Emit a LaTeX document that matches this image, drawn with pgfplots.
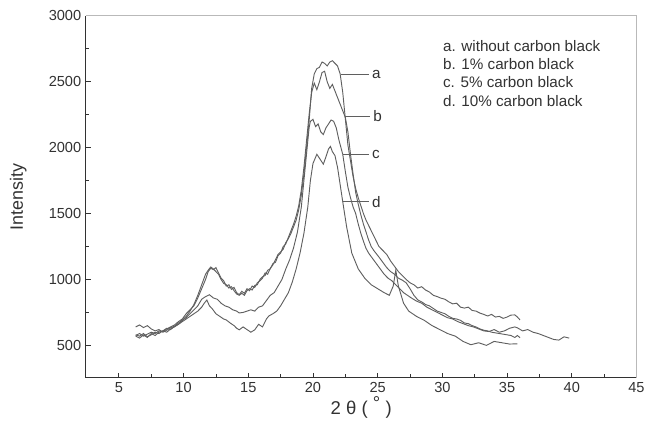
\documentclass[border=0pt]{standalone}
\usepackage{fontspec}
\setmainfont{Liberation Sans}
\usepackage{pgfplots}
\pgfplotsset{compat=1.18}
\definecolor{curve}{RGB}{95,95,95}
\definecolor{axdark}{RGB}{50,50,50}
\begin{document}
\begin{tikzpicture}
\begin{axis}[
  scale only axis,
  width=415.5pt, height=273pt,
  xmin=2.45, xmax=45, ymin=255, ymax=3000,
  axis lines=left,
  axis line style={-, axdark, line width=0.8pt},
  xtick={5,10,...,45}, ytick={500,1000,...,3000},
  minor x tick num=1, minor y tick num=1,
  tick align=inside,
  major tick length=3.75pt, minor tick length=2.5pt,
  tick style={axdark, line width=0.6pt},
  /pgf/number format/assume math mode=true,
  /pgf/number format/set thousands separator={},
  ticklabel style={font=\fontsize{11}{13}\selectfont, text=axdark},
  xlabel={2 θ ( \raisebox{0.55ex}{°} )},
  ylabel={Intensity},
  xlabel style={font=\fontsize{14}{16}\selectfont, text=axdark, at={(axis description cs:0.5,-0.082)}, anchor=center},
  ylabel style={font=\fontsize{13.5}{16}\selectfont, text=axdark, at={(axis description cs:-0.1227,0.5)}, anchor=center},
  clip=false,
]
% a
\addplot[curve, line width=0.7pt, mark=none] coordinates {
(6.3,575)(6.6,590)(6.9,570)(7.2,585)(7.5,600)(7.8,590)(8.1,610)(8.4,605)(8.7,625)(9.0,640)(9.3,655)(9.6,680)(9.9,700)(10.2,740)(10.5,770)(10.8,800)(11.1,860)(11.4,930)(11.7,1000)(11.9,1060)(12.1,1085)(12.3,1075)(12.5,1090)(12.7,1050)(12.9,1010)(13.1,990)(13.3,950)(13.5,960)(13.7,925)(13.9,940)(14.1,900)(14.3,885)(14.5,910)(14.7,895)(14.9,930)(15.1,915)(15.3,950)(15.5,940)(15.7,975)(15.9,990)(16.1,1010)(16.3,1050)(16.5,1040)(16.7,1085)(16.9,1110)(17.1,1150)(17.3,1190)(17.5,1210)(17.7,1230)(17.9,1280)(18.1,1310)(18.3,1350)(18.5,1400)(18.7,1450)(18.9,1530)(19.1,1640)(19.3,1800)(19.5,2000)(19.7,2200)(19.9,2450)(20.1,2560)(20.3,2600)(20.5,2610)(20.7,2650)(20.9,2640)(21.1,2620)(21.3,2650)(21.5,2660)(21.7,2640)(21.9,2620)(22.1,2560)(22.3,2420)(22.5,2220)(22.7,2020)(22.9,1900)(23.1,1780)(23.3,1690)(23.5,1620)(23.7,1560)(23.9,1500)(24.1,1450)(24.3,1410)(24.5,1370)(24.7,1330)(24.9,1290)(25.1,1250)(25.4,1220)(25.7,1190)(26.0,1140)(26.3,1100)(26.6,1060)(26.9,1030)(27.2,1000)(27.5,975)(27.8,960)(28.1,935)(28.4,945)(28.7,920)(29.0,905)(29.3,880)(29.6,870)(29.9,858)(30.2,850)(30.5,830)(30.8,815)(31.1,820)(31.4,790)(31.7,783)(32.0,790)(32.3,765)(32.6,760)(32.9,745)(33.2,735)(33.5,723)(33.8,735)(34.1,715)(34.4,720)(34.7,705)(35.0,715)(35.3,730)(35.6,731)(35.8,715)(36.0,693)
};
% b
\addplot[curve, line width=0.7pt, mark=none] coordinates {
(6.3,640)(6.6,655)(6.9,635)(7.2,650)(7.5,625)(7.8,610)(8.1,620)(8.4,600)(8.7,615)(9.0,635)(9.3,645)(9.6,670)(9.9,690)(10.2,720)(10.5,760)(10.8,810)(11.1,880)(11.4,960)(11.7,1040)(11.9,1070)(12.1,1095)(12.3,1080)(12.5,1060)(12.7,1040)(12.9,1000)(13.1,970)(13.3,960)(13.5,935)(13.7,945)(13.9,915)(14.1,890)(14.3,880)(14.5,895)(14.7,880)(14.9,915)(15.1,930)(15.3,920)(15.5,955)(15.7,960)(15.9,1000)(16.1,1020)(16.3,1030)(16.5,1070)(16.7,1080)(16.9,1120)(17.1,1130)(17.3,1180)(17.5,1200)(17.7,1250)(17.9,1270)(18.1,1320)(18.3,1370)(18.5,1420)(18.7,1480)(18.9,1560)(19.1,1680)(19.3,1850)(19.5,2050)(19.7,2250)(19.9,2420)(20.1,2490)(20.3,2440)(20.5,2500)(20.7,2570)(20.9,2580)(21.1,2500)(21.3,2450)(21.5,2480)(21.7,2430)(21.9,2380)(22.1,2330)(22.3,2280)(22.5,2230)(22.7,2120)(22.9,1950)(23.1,1800)(23.3,1660)(23.5,1570)(23.7,1490)(23.9,1420)(24.1,1360)(24.3,1300)(24.5,1250)(24.7,1220)(24.9,1195)(25.1,1170)(25.4,1130)(25.7,1090)(26.0,1060)(26.3,1040)(26.6,1010)(26.9,995)(27.2,975)(27.5,930)(27.8,880)(28.1,845)(28.4,830)(28.7,810)(29.0,800)(29.3,780)(29.6,760)(29.9,750)(30.2,740)(30.5,720)(30.8,705)(31.1,700)(31.4,690)(31.7,670)(32.0,665)(32.3,650)(32.6,640)(32.9,625)(33.2,615)(33.5,610)(33.8,600)(34.1,595)(34.4,590)(34.7,585)(35.0,580)(35.3,575)(35.6,560)(35.8,575)(36.0,558)
};
% c
\addplot[curve, line width=0.7pt, mark=none] coordinates {
(6.3,570)(6.6,555)(6.9,580)(7.2,560)(7.5,590)(7.8,575)(8.1,600)(8.4,610)(8.7,600)(9.0,625)(9.3,640)(9.6,660)(9.9,690)(10.2,710)(10.5,740)(10.8,770)(11.1,800)(11.4,850)(11.7,870)(12.0,884)(12.3,860)(12.6,850)(12.9,820)(13.2,800)(13.5,790)(13.8,770)(14.1,760)(14.3,746)(14.6,750)(14.9,760)(15.2,770)(15.5,760)(15.8,790)(16.1,800)(16.4,840)(16.7,880)(17.0,900)(17.3,950)(17.6,1000)(17.9,1080)(18.2,1150)(18.5,1240)(18.8,1360)(19.1,1550)(19.3,1750)(19.5,1950)(19.7,2150)(19.8,2200)(20.0,2215)(20.2,2160)(20.4,2180)(20.6,2120)(20.8,2100)(21.0,2150)(21.2,2180)(21.4,2210)(21.6,2200)(21.8,2150)(22.0,2060)(22.3,1950)(22.5,1820)(22.7,1700)(22.9,1620)(23.1,1550)(23.3,1500)(23.5,1420)(23.7,1350)(23.9,1290)(24.1,1236)(24.3,1200)(24.6,1160)(24.9,1120)(25.2,1080)(25.5,1040)(25.8,1010)(26.1,990)(26.4,960)(26.7,930)(27.0,900)(27.3,880)(27.6,860)(28.0,836)(28.4,820)(28.8,790)(29.2,770)(29.6,750)(30.0,730)(30.4,710)(30.8,700)(31.2,680)(31.6,665)(32.0,650)(32.4,640)(32.8,625)(33.2,610)(33.6,605)(34.0,620)(34.4,600)(34.8,610)(35.2,630)(35.6,640)(35.8,633)(36.2,610)(36.6,620)(37.0,600)(37.4,590)(37.8,575)(38.2,560)(38.6,545)(39.0,540)(39.4,565)(39.8,555)
};
% d
\addplot[curve, line width=0.7pt, mark=none] coordinates {
(6.3,580)(6.6,570)(6.9,590)(7.2,565)(7.5,580)(7.8,600)(8.1,590)(8.4,610)(8.7,630)(9.0,620)(9.3,645)(9.6,660)(9.9,680)(10.2,700)(10.5,720)(10.8,740)(11.1,760)(11.4,790)(11.6,820)(11.8,844)(12.0,800)(12.2,780)(12.5,740)(12.8,720)(13.1,700)(13.3,693)(13.6,670)(13.9,650)(14.1,630)(14.3,618)(14.6,640)(14.9,620)(15.2,600)(15.5,618)(15.8,660)(16.1,640)(16.4,700)(16.6,724)(16.9,740)(17.2,760)(17.5,800)(17.8,850)(18.1,900)(18.4,980)(18.7,1080)(19.0,1200)(19.3,1350)(19.6,1550)(19.8,1750)(20.0,1880)(20.3,1950)(20.5,1920)(20.8,1875)(21.0,1930)(21.2,1990)(21.35,2010)(21.5,1970)(21.7,1940)(21.9,1850)(22.1,1720)(22.3,1590)(22.6,1400)(23.0,1200)(23.5,1080)(24.0,1010)(24.5,960)(25.0,930)(25.5,900)(25.9,880)(26.2,950)(26.4,1070)(26.6,950)(27.0,820)(27.4,760)(28.0,720)(28.6,690)(29.2,650)(29.8,620)(30.4,590)(31.0,570)(31.6,530)(32.2,505)(32.8,520)(33.4,500)(34.0,530)(34.6,520)(35.2,510)(35.8,512)
};
% pointer lines and letters
\draw[curve, line width=0.6pt] (axis cs:22.2,2553) -- (axis cs:24.3,2553) node[right=-1pt, text=axdark, font=\fontsize{11.5}{13}\selectfont] {a};
\draw[curve, line width=0.6pt] (axis cs:22.5,2237) -- (axis cs:24.4,2237) node[right=-1pt, text=axdark, font=\fontsize{11.5}{13}\selectfont] {b};
\draw[curve, line width=0.6pt] (axis cs:22.3,1951) -- (axis cs:24.3,1951) node[right=-1pt, text=axdark, font=\fontsize{11.5}{13}\selectfont] {c};
\draw[curve, line width=0.6pt] (axis cs:22.3,1590) -- (axis cs:24.3,1590) node[right=-1pt, text=axdark, font=\fontsize{11.5}{13}\selectfont] {d};
% legend text
\node[anchor=west, inner sep=0pt, text=axdark, font=\fontsize{11.5}{13}\selectfont] at (axis cs:30.03,2773) {a. without carbon black};
\node[anchor=west, inner sep=0pt, text=axdark, font=\fontsize{11.5}{13}\selectfont] at (axis cs:30.03,2634) {b. 1\% carbon black};
\node[anchor=west, inner sep=0pt, text=axdark, font=\fontsize{11.5}{13}\selectfont] at (axis cs:30.03,2495) {c. 5\% carbon black};
\node[anchor=west, inner sep=0pt, text=axdark, font=\fontsize{11.5}{13}\selectfont] at (axis cs:30.03,2351) {d. 10\% carbon black};
% top and right frame lines
\draw[gray!55, line width=0.8pt] (rel axis cs:0,1) -- (rel axis cs:1,1) -- (rel axis cs:1,0);
\end{axis}
\path (current axis.south west) ++(-64.8pt,-35.25pt) coordinate (bbA);
\path (current axis.north east) ++(6.75pt,12pt) coordinate (bbB);
\path (bbA) rectangle (bbB);
\end{tikzpicture}
\end{document}
